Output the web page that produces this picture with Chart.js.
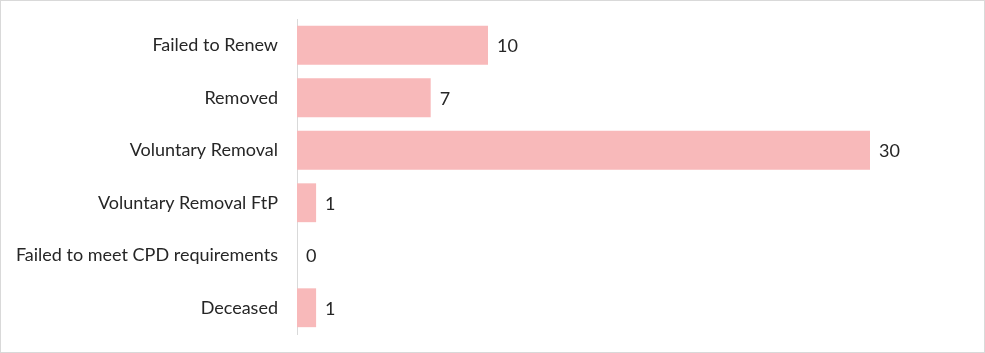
<!DOCTYPE html>
<html>
<head>
<meta charset="utf-8">
<script src="https://cdn.jsdelivr.net/npm/chart.js@4"></script>
<style>
  html, body { margin: 0; padding: 0; background: #fff; }
  #wrap { width: 985px; height: 353px; position: relative; }
</style>
</head>
<body>
<div id="wrap"><canvas id="chart" width="985" height="353"></canvas></div>
<script>
const categories = [
  "Failed to Renew",
  "Removed",
  "Voluntary Removal",
  "Voluntary Removal FtP",
  "Failed to meet CPD requirements",
  "Deceased",
];
const counts = [10, 7, 30, 1, 0, 1];

const FONT = "Lato, 'Open Sans', sans-serif";
const TEXT = "#262626";

// value labels after each bar
const valueLabels = {
  id: "valueLabels",
  afterDatasetsDraw(chart) {
    const ctx = chart.ctx;
    const meta = chart.getDatasetMeta(0);
    ctx.save();
    ctx.font = "18px " + FONT;
    ctx.fillStyle = TEXT;
    ctx.textAlign = "left";
    ctx.textBaseline = "middle";
    meta.data.forEach((bar, i) => {
      ctx.fillText(String(counts[i]), bar.x + 9, bar.y + 1);
    });
    ctx.restore();
  },
};

// outer frame
const frame = {
  id: "frame",
  afterDraw(chart) {
    const ctx = chart.ctx;
    ctx.save();
    ctx.strokeStyle = "#d9d9d9";
    ctx.lineWidth = 1;
    ctx.strokeRect(0.5, 0.5, chart.width - 1, chart.height - 1);
    ctx.restore();
  },
};

const ctxBar = document.getElementById("chart").getContext("2d");
const barChart = new Chart(ctxBar, {
  type: "bar",
  data: {
    labels: categories,
    datasets: [
      {
        data: counts,
        backgroundColor: "#f8b9ba",
        borderWidth: 0,
        barPercentage: 0.74,
        categoryPercentage: 1,
      },
    ],
  },
  options: {
    indexAxis: "y",
    responsive: false,
    animation: false,
    layout: {
      padding: { top: 19, bottom: 19, left: 0, right: 115 },
    },
    plugins: {
      legend: { display: false },
      tooltip: { enabled: false },
    },
    scales: {
      x: {
        display: false,
        min: 0,
        max: 30,
      },
      y: {
        afterFit(scale) {
          scale.width = 297;
          scale.paddingTop = 0;
          scale.paddingBottom = 0;
        },
        grid: { display: false, drawTicks: false },
        border: { display: true, color: "#d9d9d9", width: 1 },
        ticks: {
          padding: 19,
          color: TEXT,
          font: { family: FONT, size: 18 },
        },
      },
    },
  },
  plugins: [valueLabels, frame],
});
</script>
</body>
</html>
